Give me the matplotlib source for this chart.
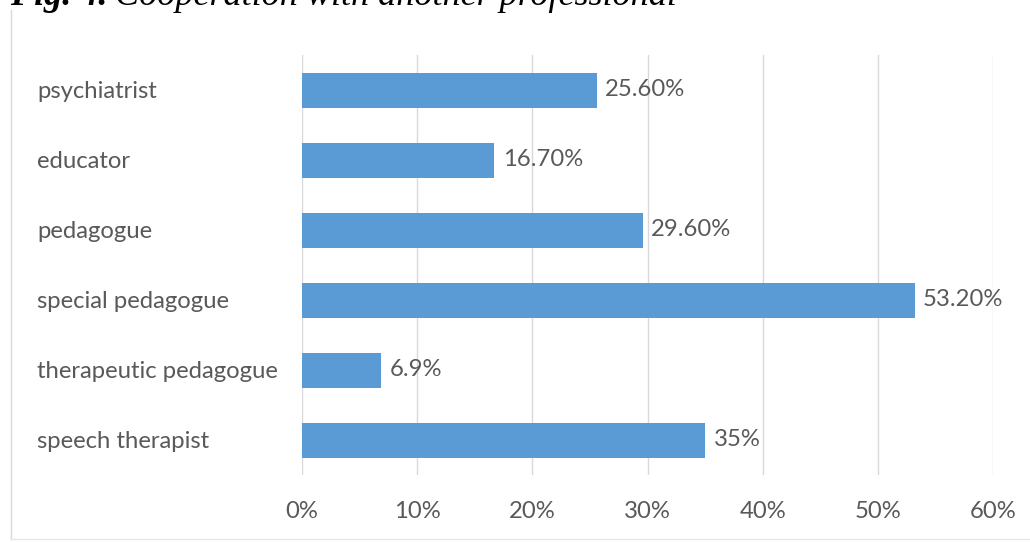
import matplotlib.pyplot as plt
from matplotlib.lines import Line2D

# Cooperation with another professional (share of respondents, %)
categories = ["speech therapist", "therapeutic pedagogue", "special pedagogue",
              "pedagogue", "educator", "psychiatrist"]
values = [35.0, 6.9, 53.2, 29.6, 16.7, 25.6]
value_labels = ["35%", "6.9%", "53.20%", "29.60%", "16.70%", "25.60%"]
xticks = [0, 10, 20, 30, 40, 50, 60]

W, H, DPI = 1030, 542, 100
text_gray = "#595959"
bar_blue = "#5b9bd5"
grid_gray = "#d9d9d9"
label_font = "Lato"
label_size = 17.2

fig = plt.figure(figsize=(W / DPI, H / DPI), dpi=DPI)
ax = fig.add_axes([302 / W, 1 - 475 / H, (993 - 302) / W, (475 - 55) / H])

# chart frame: left and bottom edges only
fx0, fy0, fy1 = 10.5 / W, 3 / H, 1 - 10 / H
fig.add_artist(Line2D([fx0, fx0], [fy0, fy1], color="#d9d9d9", lw=1.0))
fig.add_artist(Line2D([fx0, 1.0], [fy0, fy0], color="#e6e6e6", lw=1.0))

pos = list(range(len(categories)))
ax.barh(pos, values, height=0.5, color=bar_blue, zorder=2)
for y, v, lab in zip(pos, values, value_labels):
    ax.annotate(lab, (v, y), xytext=(6, 0), textcoords="offset points",
                va="center", ha="left", fontsize=label_size, color=text_gray,
                family=label_font)

ax.set_xlim(0, 60)
ax.set_ylim(-0.5, 5.5)
ax.set_xticks(xticks)
ax.set_xticklabels([f"{t}%" for t in xticks], fontsize=label_size, color=text_gray,
                   family=label_font)
ax.set_yticks(pos)
ax.set_yticklabels(categories, fontsize=label_size, color=text_gray, family=label_font,
                   ha="left")
ax.tick_params(axis="y", length=0, pad=(302 - 37) * 72 / DPI)
ax.tick_params(axis="x", length=0, pad=19)
ax.grid(axis="x", color=grid_gray, linewidth=1.0, zorder=0)
ax.set_axisbelow(True)
for s in ax.spines.values():
    s.set_visible(False)

title_y = 1 - 5 / H
t1 = fig.text(10 / W, title_y, "Fig. 4.", fontsize=26, family="Liberation Serif",
              weight="bold", style="italic", va="baseline")
fig.canvas.draw()
x_after = t1.get_window_extent().x1 / W + 8 / W
fig.text(x_after, title_y, "Cooperation with another professional", fontsize=26,
         family="Liberation Serif", style="italic", va="baseline")

fig.savefig("out.png", dpi=DPI)
